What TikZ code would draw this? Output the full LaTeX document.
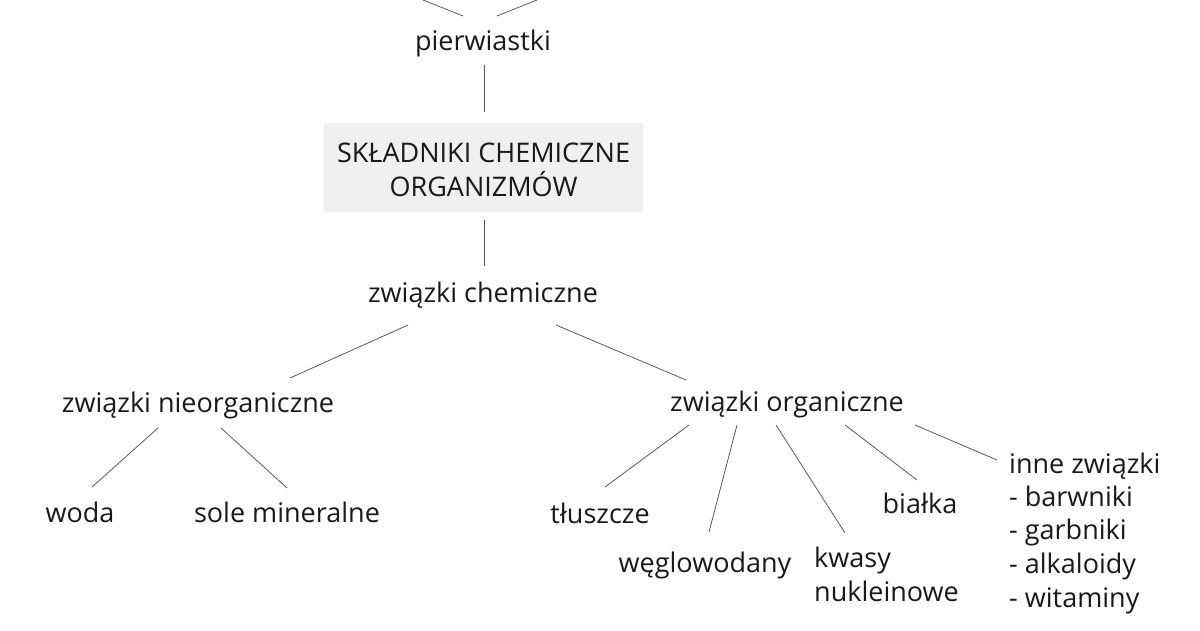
\documentclass[tikz,border=0pt]{standalone}
\usepackage{fontspec}
\setmainfont{Open Sans}
\begin{document}
\begin{tikzpicture}[x=1pt,y=-1pt,
  lbl/.style={inner sep=0pt,anchor=base,text=black!90,font=\fontsize{27}{32}\selectfont},
  lbll/.style={lbl,anchor=base west},
  conn/.style={draw=black!65,line width=0.8pt}]
\useasboundingbox (0,0) rectangle (1200,630);
% box
\node[fill=black!6,minimum width=319pt,minimum height=89pt,inner sep=0pt] (box) at (483.5,167.5) {};
\node[lbl] (t1) at (483.5,162) {SKŁADNIKI CHEMICZNE};
\node[lbl] (t2) at (483.5,196) {ORGANIZMÓW};
% labels
\node[lbl] (pier) at (483,50) {pierwiastki};
\node[lbl] (chem) at (483,302) {związki chemiczne};
\node[lbl] (nieorg) at (198,412) {związki nieorganiczne};
\node[lbl] (org) at (787,411) {związki organiczne};
\node[lbl] (woda) at (80,522) {woda};
\node[lbl] (sole) at (287,522) {sole mineralne};
\node[lbl] (tl) at (600,523) {tłuszcze};
\node[lbl] (wegl) at (705,572) {węglowodany};
\node[lbll] (kw1) at (814,567) {kwasy};
\node[lbll] (kw2) at (814,601) {nukleinowe};
\node[lbl] (bial) at (920,513) {białka};
\node[lbll] (in0) at (1009,473) {inne związki};
\node[lbll] (in1) at (1009,506) {- barwniki};
\node[lbll] (in2) at (1009,539) {- garbniki};
\node[lbll] (in3) at (1009,573) {- alkaloidy};
\node[lbll] (in4) at (1009,607) {- witaminy};
% connector endpoints
\coordinate (a1) at (423,0); \coordinate (a2) at (463,16);
\coordinate (b1) at (537,0); \coordinate (b2) at (497,16);
\coordinate (c1) at (484,65); \coordinate (c2) at (484,112);
\coordinate (d1) at (484,220); \coordinate (d2) at (484,266);
\coordinate (e1) at (408,325); \coordinate (e2) at (290,378);
\coordinate (f1) at (556,325); \coordinate (f2) at (686,380);
\coordinate (g1) at (158,428); \coordinate (g2) at (92,487);
\coordinate (h1) at (221,428); \coordinate (h2) at (287,488);
\coordinate (i1) at (689,425); \coordinate (i2) at (605,487);
\coordinate (j1) at (737,425); \coordinate (j2) at (709,532);
\coordinate (k1) at (776,425); \coordinate (k2) at (845,533);
\coordinate (l1) at (845,425); \coordinate (l2) at (917,480);
\coordinate (m1) at (915,425); \coordinate (m2) at (997,460);
\foreach \p in {a,b,c,d,e,f,g,h,i,j,k,l,m} \draw[conn] (\p1) -- (\p2);
\end{tikzpicture}
\end{document}
